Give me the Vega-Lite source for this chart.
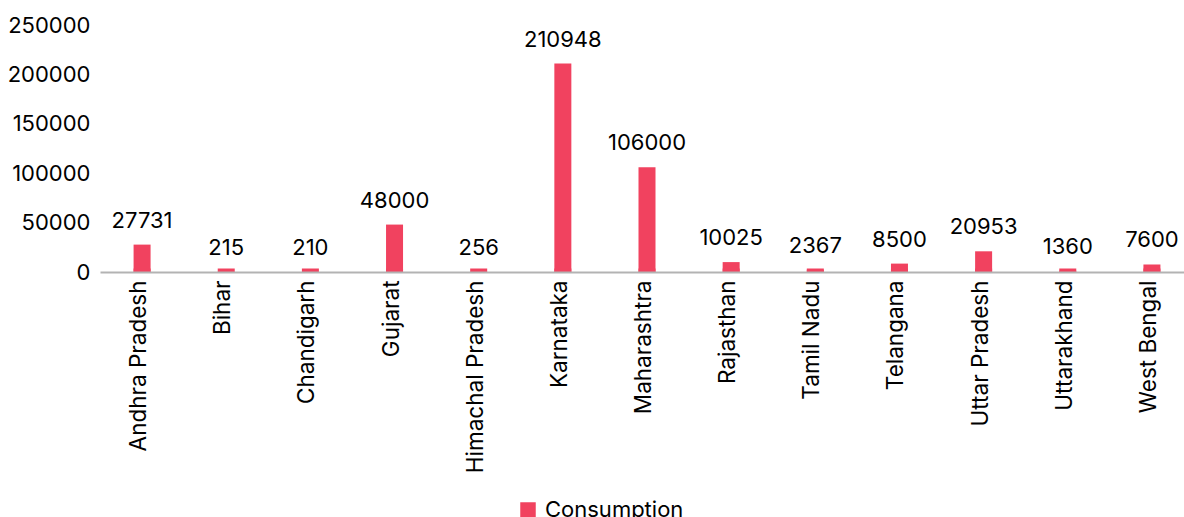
{
  "$schema": "https://vega.github.io/schema/vega-lite/v6.json",
  "width": 1094,
  "height": 247,
  "autosize": {"type": "none"},
  "padding": {"left": 100, "top": 25, "right": 0, "bottom": 245},
  "background": "white",
  "config": {
    "view": {"stroke": null},
    "font": "Inter"
  },
  "data": {
    "values": [
      {"state": "Andhra Pradesh", "consumption": 27731, "series": "Consumption"},
      {"state": "Bihar", "consumption": 215, "series": "Consumption"},
      {"state": "Chandigarh", "consumption": 210, "series": "Consumption"},
      {"state": "Gujarat", "consumption": 48000, "series": "Consumption"},
      {"state": "Himachal Pradesh", "consumption": 256, "series": "Consumption"},
      {"state": "Karnataka", "consumption": 210948, "series": "Consumption"},
      {"state": "Maharashtra", "consumption": 106000, "series": "Consumption"},
      {"state": "Rajasthan", "consumption": 10025, "series": "Consumption"},
      {"state": "Tamil Nadu", "consumption": 2367, "series": "Consumption"},
      {"state": "Telangana", "consumption": 8500, "series": "Consumption"},
      {"state": "Uttar Pradesh", "consumption": 20953, "series": "Consumption"},
      {"state": "Uttarakhand", "consumption": 1360, "series": "Consumption"},
      {"state": "West Bengal", "consumption": 7600, "series": "Consumption"}
    ]
  },
  "encoding": {
    "x": {
      "field": "state",
      "type": "nominal",
      "sort": null,
      "scale": {"paddingInner": 0, "paddingOuter": 0},
      "axis": {
        "title": null,
        "labelAngle": -90,
        "labelAlign": "right",
        "labelBaseline": "middle",
        "labelPadding": 8,
        "labelOffset": -3,
        "labelLimit": 0,
        "labelFontSize": 22.5,
        "labelColor": "#000000",
        "ticks": false,
        "domainColor": "#b3b3b3",
        "domainWidth": 2,
        "zindex": 1
      }
    }
  },
  "layer": [
    {
      "mark": {"type": "tick", "orient": "horizontal", "size": 17, "thickness": 3.5, "yOffset": -1.75, "color": "#F1425F", "opacity": 1},
      "encoding": {
        "y": {"datum": 0, "type": "quantitative"}
      }
    },
    {
      "mark": {"type": "bar", "width": 17},
      "encoding": {
        "y": {
          "field": "consumption",
          "type": "quantitative",
          "scale": {"domain": [0, 250000], "nice": false},
          "axis": {
            "title": null,
            "values": [0, 50000, 100000, 150000, 200000, 250000],
            "format": "d",
            "grid": false,
            "domain": false,
            "ticks": false,
            "labelFontSize": 22,
            "labelColor": "#000000",
            "labelPadding": 10
          }
        },
        "color": {
          "field": "series",
          "type": "nominal",
          "scale": {"range": ["#F1425F"]},
          "legend": {
            "title": null,
            "orient": "none",
            "legendX": 417,
            "legendY": 474,
            "symbolType": "square",
            "symbolSize": 240,
            "symbolStrokeWidth": 0,
            "symbolOpacity": 1,
            "labelFontSize": 22,
            "labelColor": "#000000",
            "labelOffset": 6
          }
        }
      }
    },
    {
      "mark": {"type": "text", "baseline": "alphabetic", "dy": -17, "fontSize": 22, "color": "#000000"},
      "encoding": {
        "y": {"field": "consumption", "type": "quantitative"},
        "text": {"field": "consumption", "type": "quantitative", "format": "d"}
      }
    }
  ]
}
